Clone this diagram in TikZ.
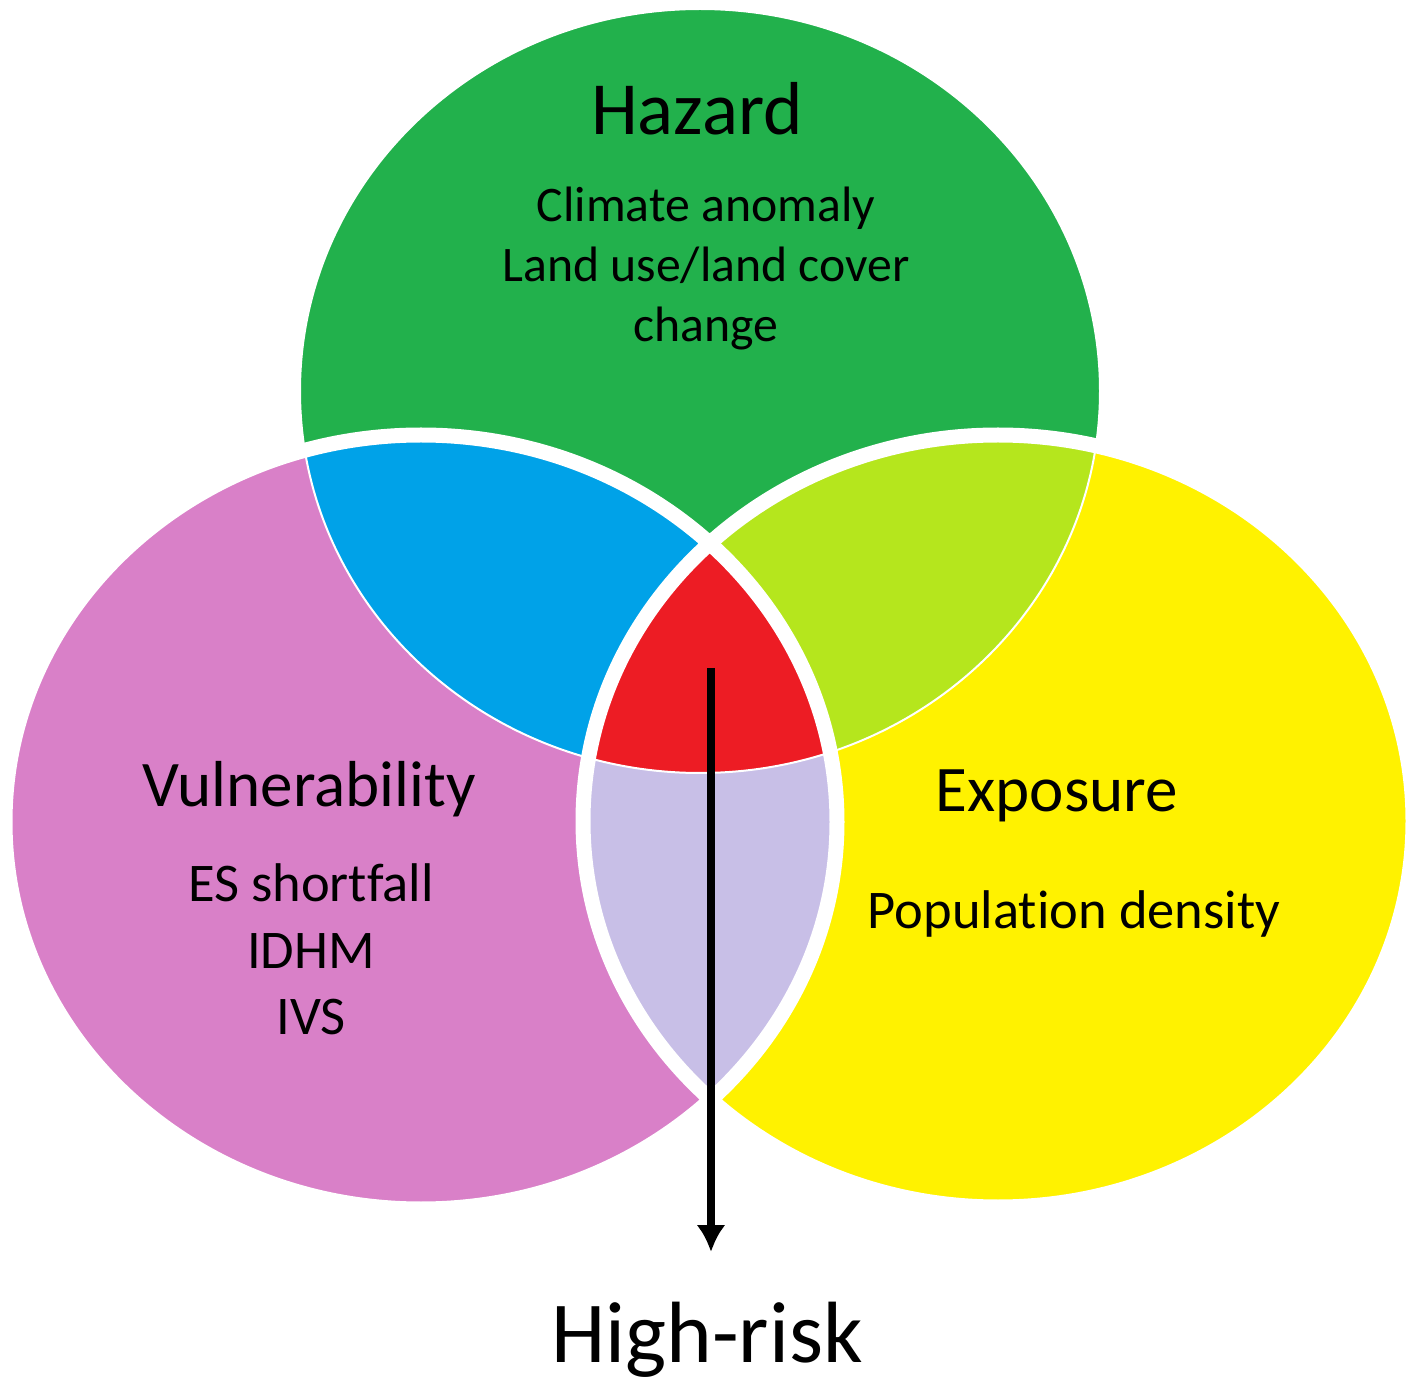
\documentclass[tikz,border=0pt]{standalone}
\usepackage{fontspec}
\setmainfont{Carlito}[Ligatures={NoCommon}]
\usepackage{tikz}
\usetikzlibrary{positioning,arrows.meta}

\definecolor{hazardgreen}{RGB}{34,177,76}
\definecolor{vulnpink}{RGB}{217,128,200}
\definecolor{exposyellow}{RGB}{255,242,0}
\definecolor{hvblue}{RGB}{0,162,232}
\definecolor{helime}{RGB}{181,230,29}
\definecolor{velilac}{RGB}{200,191,231}
\definecolor{riskred}{RGB}{237,28,36}

% the three sets
\newcommand{\hazardarea}{(700,391) ellipse [x radius=400, y radius=382]}
\newcommand{\vulnarea}{(421,822) ellipse [x radius=416, y radius=387]}
\newcommand{\exposarea}{(998,821) ellipse [x radius=415, y radius=386]}

\begin{document}
\begin{tikzpicture}[x=0.2mm, y=-0.2mm, >={Latex[length=5.4mm, width=5.8mm]},
    settitle/.style={anchor=base, inner sep=0pt, font=\fontsize{37}{44}\selectfont},
    setitem/.style={anchor=base, inner sep=0pt, font=\fontsize{31}{37}\selectfont}]

        \useasboundingbox (0,0) rectangle (1417,1382);

        % Plain circles
        \fill[hazardgreen] \hazardarea;
        \fill[vulnpink] \vulnarea;
        \fill[exposyellow] \exposarea;

        % Pairwise overlaps with the hazard circle
        \begin{scope}
            \clip \hazardarea;
            \fill[hvblue] \vulnarea;
            \fill[helime] \exposarea;
        \end{scope}

        % Vulnerability and exposure, then all three
        \begin{scope}
            \clip \vulnarea;
            \fill[velilac] \exposarea;
            \clip \hazardarea;
            \fill[riskred] \exposarea;
        \end{scope}

        % White rims
        \draw[white, line width=0.4mm] \hazardarea;
        \draw[white, line width=3mm] \vulnarea \exposarea;

        % Hazard texts
        \node[settitle, font=\fontsize{42.7}{50}\selectfont] (hazard) at (697,135) {Hazard};
        \node[setitem, font=\fontsize{28.3}{34}\selectfont] (climate) at (706,222) {Climate anomaly};
        \node[setitem, font=\fontsize{28.3}{34}\selectfont, below=12mm of climate.base, anchor=base] (landuse) {Land use/land cover};
        \node[setitem, font=\fontsize{28.3}{34}\selectfont, below=12mm of landuse.base, anchor=base] (change) {change};

        % Vulnerability texts
        \node[settitle] (vuln) at (309,807) {Vulnerability};
        \node[setitem] (shortfall) at (311,902) {ES shortfall};
        \node[setitem, below=13.2mm of shortfall.base, anchor=base] (idhm) {IDHM};
        \node[setitem, below=13.2mm of idhm.base, anchor=base] (ivs) {IVS};

        % Exposure texts
        \node[settitle] (expos) at (1057,812) {Exposure};
        \node[setitem] (popdens) at (1074,928) {Population density};

        % Arrow to the result
        \coordinate (core) at (711,668);
        \coordinate (tip) at (711,1252);
        \draw[->, line width=1.5mm] (core) -- (tip);
        \node[settitle, font=\fontsize{49.5}{58}\selectfont] (risk) at (707,1362) {High-risk};
    \end{tikzpicture}
\end{document}
